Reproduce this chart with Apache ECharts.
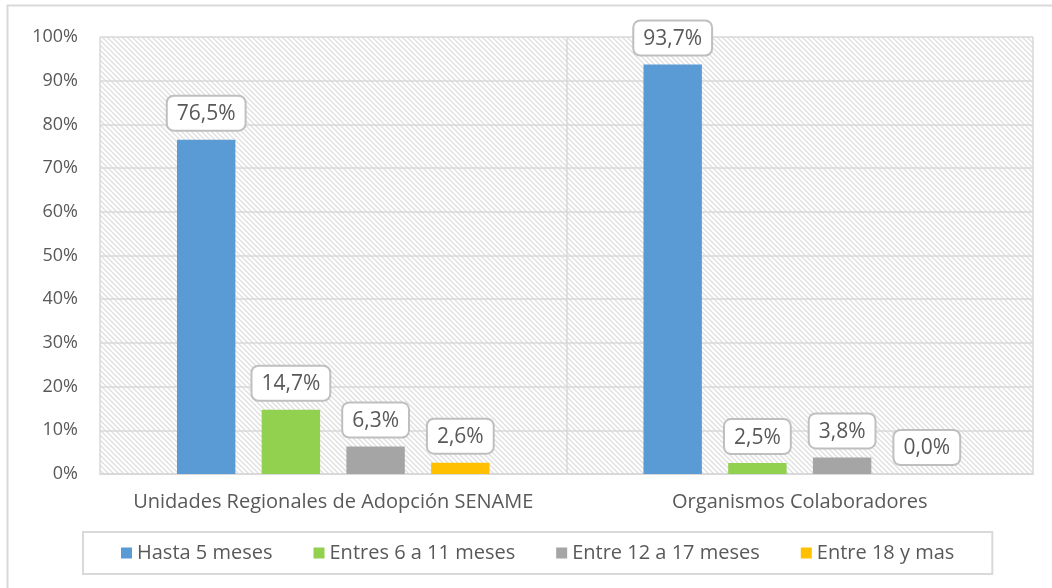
<!DOCTYPE html>
<html>
<head>
<meta charset="utf-8">
<script src="https://cdn.jsdelivr.net/npm/echarts@6/dist/echarts.min.js"></script>
<style>
  html, body { margin: 0; padding: 0; background: #fff; }
  #main { width: 1052px; height: 588px; }
</style>
</head>
<body>
<div id="main"></div>
<script>
// datos
var categorias = ['Unidades Regionales de Adopción SENAME', 'Organismos Colaboradores'];
var hasta5 = [76.5, 93.7];
var entre6a11 = [14.7, 2.5];
var entre12a17 = [6.3, 3.8];
var entre18 = [2.6, 0.0];
var nombres = ['Hasta 5 meses', 'Entres 6 a 11 meses', 'Entre 12 a 17 meses', 'Entre 18 y mas'];
var colores = ['#5b9bd5', '#92d050', '#a5a5a5', '#ffc000'];

var FONT = 'Open Sans';

// fondo rayado del area de trazado
function rayado() {
  var c = document.createElement('canvas');
  c.width = 5; c.height = 5;
  var ctx = c.getContext('2d');
  ctx.fillStyle = '#ffffff';
  ctx.fillRect(0, 0, 5, 5);
  ctx.strokeStyle = '#e0e0e0';
  ctx.lineWidth = 1.4;
  ctx.beginPath();
  ctx.moveTo(-1, -1); ctx.lineTo(6, 6);
  ctx.moveTo(-1, 4); ctx.lineTo(1, 6);
  ctx.moveTo(4, -1); ctx.lineTo(6, 1);
  ctx.stroke();
  return c;
}

function serie(nombre, datos, color) {
  return {
    name: nombre,
    type: 'bar',
    data: datos,
    barGap: '45%',
    barCategoryGap: '33%',
    itemStyle: { color: color },
    label: {
      show: true,
      position: 'top',
      distance: 10,
      formatter: function (p) { return p.value.toFixed(1).replace('.', ',') + '%'; },
      fontFamily: FONT,
      fontSize: 21,
      color: '#595959',
      backgroundColor: '#fff',
      borderColor: '#bfbfbf',
      borderWidth: 2,
      borderRadius: 6,
      padding: [7, 9, 5, 9]
    }
  };
}

var chart = echarts.init(document.getElementById('main'));
chart.setOption({
  animation: false,
  graphic: [{
    type: 'rect',
    shape: { x: 7.5, y: 5.5, width: 1100, height: 700 },
    style: { fill: 'none', stroke: '#d9d9d9', lineWidth: 2 },
    silent: true
  }],
  grid: {
    left: 100, right: 19, top: 37, bottom: 114,
    show: true,
    borderWidth: 0,
    backgroundColor: { image: rayado(), repeat: 'repeat' }
  },
  legend: {
    data: nombres,
    left: 83,
    top: 532,
    padding: [11, 38, 11, 38],
    borderColor: '#d9d9d9',
    borderWidth: 2,
    icon: 'rect',
    itemWidth: 11,
    itemHeight: 11,
    itemGap: 41,
    textStyle: { fontFamily: FONT, fontSize: 20, color: '#595959' }
  },
  xAxis: {
    type: 'category',
    data: categorias,
    axisTick: { show: false },
    axisLine: { lineStyle: { color: '#d9d9d9', width: 2 } },
    splitLine: { show: true, interval: 0, lineStyle: { color: '#d9d9d9', width: 1.5 } },
    axisLabel: { interval: 0, fontFamily: FONT, fontSize: 20, color: '#595959', margin: 18 }
  },
  yAxis: {
    type: 'value',
    min: 0,
    max: 100,
    interval: 10,
    axisLine: { show: false },
    axisTick: { show: false },
    splitLine: { lineStyle: { color: '#d9d9d9', width: 1.5 } },
    axisLabel: { formatter: '{value}%', fontFamily: FONT, fontSize: 18, color: '#595959', margin: 22 }
  },
  series: [
    serie(nombres[0], hasta5, colores[0]),
    serie(nombres[1], entre6a11, colores[1]),
    serie(nombres[2], entre12a17, colores[2]),
    serie(nombres[3], entre18, colores[3])
  ]
});
</script>
</body>
</html>
